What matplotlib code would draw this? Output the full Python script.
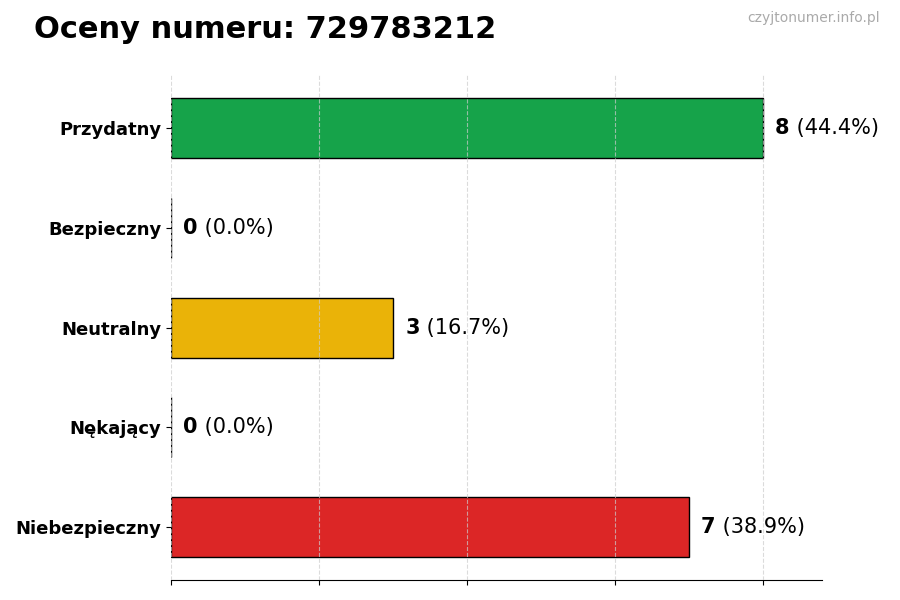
import matplotlib
matplotlib.use("Agg")
import matplotlib.pyplot as plt

categories = ["Przydatny", "Bezpieczny", "Neutralny", "Nękający", "Niebezpieczny"]
counts = [8, 0, 3, 0, 7]
colors = ["#16a34a", "#16a34a", "#eab308", "#dc2626", "#dc2626"]
title = "Oceny numeru: 729783212"
watermark = "czyjtonumer.info.pl"

total = sum(counts)
ypos = list(range(len(categories)))[::-1]

fig = plt.figure(figsize=(9, 6), dpi=100)
ax = fig.add_axes([0.19, 0.033, 0.723, 0.842])

ax.barh(ypos, counts, height=0.6, color=colors, edgecolor="black", linewidth=1, zorder=2)
ax.set_xlim(0, max(counts) * 1.1)
ax.set_yticks(ypos)
ax.set_yticklabels(categories, fontsize=13, fontweight="bold")
ax.set_xticks(range(0, 9, 2))
ax.set_xticklabels([])
ax.grid(axis="x", linestyle="--", color="#cccccc", linewidth=0.8, alpha=0.7, zorder=3)
ax.set_axisbelow(False)
for s in ["top", "right", "left"]:
    ax.spines[s].set_visible(False)

for y, c in zip(ypos, counts):
    pct = 100.0 * c / total
    t = ax.annotate(str(c), (c, y), xytext=(9, 0), textcoords="offset points",
                    va="center", ha="left", fontsize=15, fontweight="bold")
    ax.annotate(" (%.1f%%)" % pct, xy=(1, 0.5), xycoords=t, va="center", ha="left",
                fontsize=15)

fig.text(0.038, 0.95, title, fontsize=22, fontweight="bold", va="center", ha="left")
fig.text(0.978, 0.97, watermark, fontsize=10, color="#aaaaaa", va="center", ha="right")

fig.savefig("out.png")
